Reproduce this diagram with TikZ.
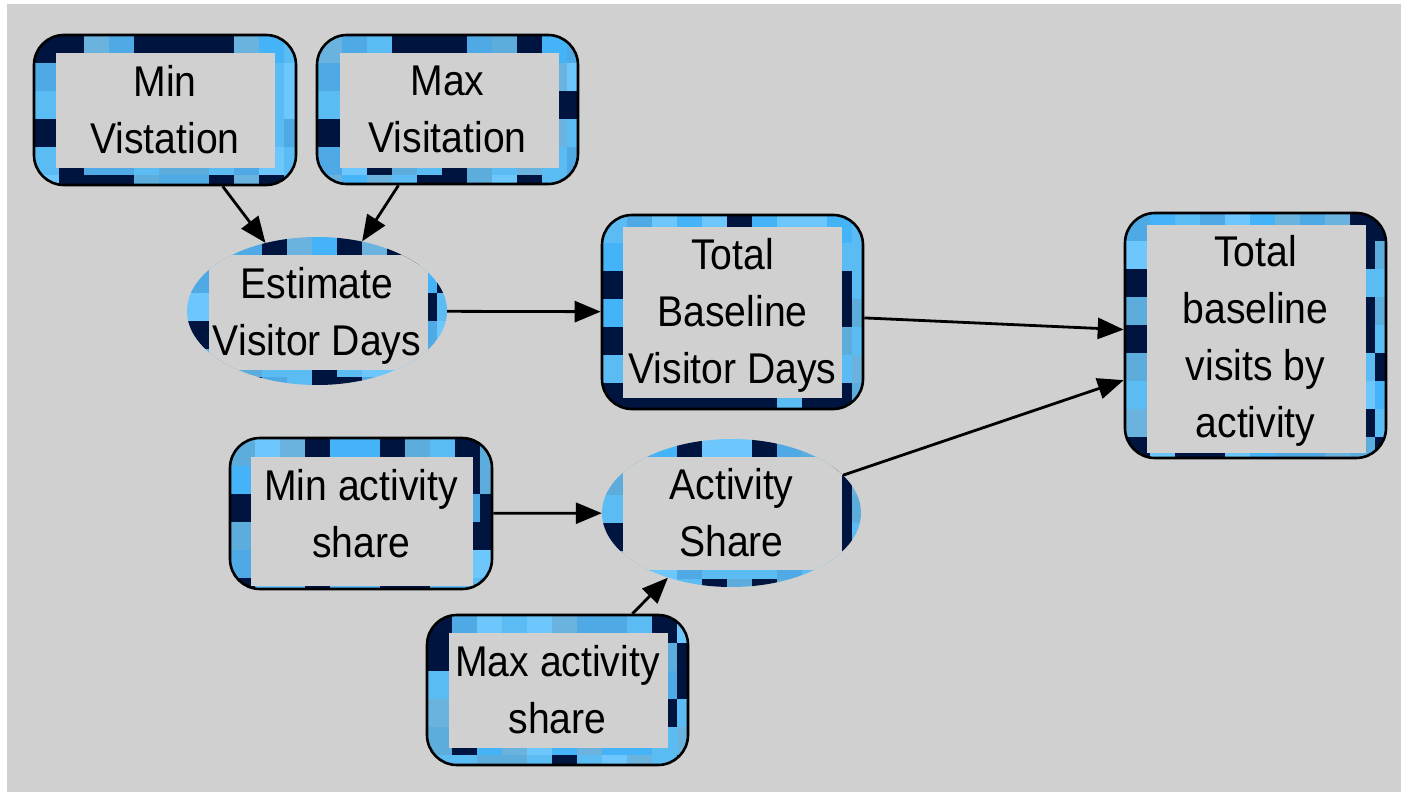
\documentclass[tikz,border=0pt]{standalone}
\usepackage{fontspec}
\setmainfont{Liberation Sans}[FakeStretch=0.91]
\usetikzlibrary{arrows.meta,calc,shapes.geometric}

\definecolor{canvas}{HTML}{D0D0D0}
\definecolor{tn}{HTML}{001440}
\definecolor{ta}{HTML}{5BBBF3}
\definecolor{tb}{HTML}{4FA9E4}
\definecolor{tc}{HTML}{6BB3DF}
\definecolor{td}{HTML}{45B3F7}
\definecolor{te}{HTML}{6DC7FD}
\definecolor{tf}{HTML}{5DADDC}

\pgfmathdeclarerandomlist{tilecols}{{tn}{tn}{ta}{tb}{tc}{td}{te}{tf}{tn}{ta}}

\tikzset{
  labeltext/.style={inner sep=0pt, align=center,
    font=\fontsize{43}{57}\selectfont},
  % checkered band: random tiles, then the plain label field on top
  tiles/.style n args={4}{path picture={
    \foreach \i in {0,...,10}{\foreach \j in {0,...,8}{
      \pgfmathrandomitem{\tcol}{tilecols}
      \fill[\tcol, sharp corners]
        ($(path picture bounding box.north west)+(\i*25pt,-\j*28pt)$)
        rectangle ++(25pt,-28pt);
    }}
    \fill[canvas, sharp corners]
      ($(path picture bounding box.north west)+(#1pt,-#3pt)$)
      rectangle ($(path picture bounding box.south east)+(-#2pt,#4pt)$);
  }},
  roundbox/.style={labeltext, rectangle, draw=black, line width=2.6pt,
    rounded corners=30pt},
  ovalbox/.style={inner sep=0pt, ellipse, draw=none},
  link/.style={-{Triangle[length=26pt,width=21pt]}, line width=2.8pt, black}
}

\begin{document}
\begin{tikzpicture}[x=1pt,y=-1pt]
\pgfmathsetseed{11}
\useasboundingbox (0,0) rectangle (1401,792);
\fill[white] (0,0) rectangle (1401,792);
\fill[canvas] (7,4) rectangle (1401,792);

\node[roundbox, tiles={22}{21}{18}{17}, minimum width=262pt, minimum height=150pt]
  (minv) at (165,110) {Min\\Vistation};
\node[roundbox, tiles={23}{19}{18}{16}, minimum width=261pt, minimum height=149pt]
  (maxv) at (447.5,109.5) {Max\\Visitation};
\node[ovalbox, tiles={22}{19}{18}{15}, minimum width=260pt, minimum height=148pt]
  (est) at (317,311) {};
\node[labeltext] (est-label) at ([yshift=-5pt]est.center) {Estimate\\Visitor Days};
\node[roundbox, tiles={21}{21}{12}{11}, minimum width=261pt, minimum height=194pt]
  (tbvd) at (732.5,312) {};
\node[labeltext] (tbvd-label) at ([yshift=-3pt]tbvd.center) {Total\\Baseline\\Visitor Days};
\node[roundbox, tiles={22}{20}{12}{5}, minimum width=261pt, minimum height=245pt]
  (tbva) at (1255.5,335.5) {};
\node[labeltext] (tbva-label) at ([yshift=-5pt]tbva.center) {Total\\baseline\\visits by\\ activity};
\node[roundbox, tiles={21}{19}{19}{3}, minimum width=262pt, minimum height=151pt]
  (minas) at (361,513.5) {Min activity\\share};
\node[ovalbox, tiles={21}{19}{18}{17}, minimum width=259pt, minimum height=148pt]
  (acts) at (731.5,513) {};
\node[labeltext] (acts-label) at (acts.center) {Activity\\Share};
\node[roundbox, tiles={22}{20}{18}{17}, minimum width=261pt, minimum height=150pt]
  (maxas) at (557.5,690) {Max activity\\share};

\draw[link] (minv) -- (est);
\draw[link] (maxv) -- (est);
\draw[link] (est) -- (tbvd);
\draw[link] (tbvd) -- (tbva);
\draw[link] (acts) -- (tbva);
\draw[link] (minas) -- (acts);
\draw[link] (maxas) -- (acts);
\end{tikzpicture}
\end{document}
